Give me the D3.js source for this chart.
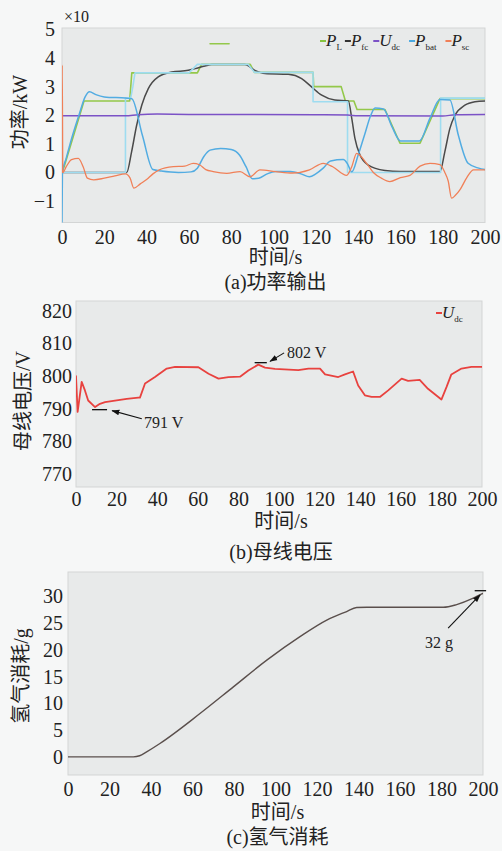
<!DOCTYPE html>
<html>
<head>
<meta charset="UTF-8">
<title>功率输出 / 母线电压 / 氢气消耗</title>
<script src="https://d3js.org/d3.v7.min.js"></script>
<style>
  body { margin: 0; background: #f6f7f7; }
  svg { display: block; }
  text { font-family: "Liberation Serif", "Noto Sans CJK SC", serif; fill: #222; }
  .tick text { font-size: 20px; }
  .label { font-size: 20px; }
  .note { font-size: 16px; }
  .plot-bg { fill: #e8eaea; stroke: #d3d5d5; stroke-width: 1; }
  .series { fill: none; stroke-linejoin: round; stroke-linecap: round; }
</style>
</head>
<body>
<div id="chart"></div>
<script>
// shared ticks
var timeTicks = [0, 20, 40, 60, 80, 100, 120, 140, 160, 180, 200];
var powerTicks = [-1, 0, 1, 2, 3, 4, 5];
var voltTicks = [770, 780, 790, 800, 810, 820];
var h2Ticks = [0, 5, 10, 15, 20, 25, 30];

// (a) power output, x10 kW, [time s, value]
var pL = [[0,0],[1,0.2],[10.4,2.5],[32,2.5],[33,3.48],[64,3.48],[66,3.78],[89,3.78],[91,3.5],[118.7,3.5],[119,3.0],[132,3.0],[134,2.5],[138,2.5],[139.5,2.2],[152.7,2.2],[159.8,1.02],[169.3,1.02],[178.7,2.58],[200,2.58]];
var pLMark = [[70,4.5],[79,4.5]];
var pFc = [[0,0],[30.6,0],[32.9,0.72],[35.3,1.65],[37.7,2.35],[40.8,2.93],[45.5,3.34],[51.9,3.51],[59.7,3.57],[63,3.63],[67.6,3.72],[70.8,3.77],[86.5,3.77],[91.2,3.57],[96,3.46],[107,3.43],[113.3,3.28],[118,2.99],[122.8,2.7],[129,2.53],[135.4,2.5],[137,1.89],[138.5,1.19],[140.9,0.61],[144.8,0.26],[152.7,0.07],[160,0.03],[178.7,0.03],[181,0.72],[183.4,1.54],[185.8,2.0],[190.5,2.35],[195.3,2.47],[200,2.5]];
var pFcRef = [[0,0],[30,0],[30,2.6],[32.5,2.6],[33.5,3.0],[34.5,3.48],[60,3.48],[64,3.78],[88,3.78],[91,3.5],[118.7,3.5],[118.7,2.47],[135,2.47],[135,0],[179,0],[179,2.6],[200,2.6]];
var uDc = [[0,1.98],[30,1.98],[36,2.02],[45,2.04],[60,2.03],[90,2.03],[120,2.02],[135,2.01],[140,1.98],[180,1.97],[186,2.02],[200,2.03]];
var pBat = [[0,-1.75],[0.2,0],[2,0.5],[5,1.3],[8,2.0],[11,2.65],[13,2.82],[16,2.72],[20,2.64],[30,2.6],[33,2.58],[38,1.3],[43,0.1],[47,0.05],[55,0.0],[61,0.02],[64,0.15],[67,0.55],[70,0.78],[75,0.84],[80,0.8],[84,0.6],[87,0.2],[90,-0.22],[93,-0.2],[97,-0.05],[101,0.03],[108,0.03],[113,-0.05],[117,-0.15],[120,-0.05],[123.5,0.15],[127,0.4],[133,0.45],[135,0.3],[137,0.02],[140,0.6],[143,1.3],[146,2.0],[148,2.25],[152,2.22],[156,1.6],[160,1.1],[169,1.1],[174,1.9],[178.7,2.55],[183.4,2.53],[187.4,1.3],[192,0.32],[197,0.15],[200,0.1]];
var pSc = [[0,0],[0.1,3.75],[0.4,0],[2,0.2],[4.5,0.45],[7.7,0.49],[10,0.2],[12,-0.2],[15,-0.26],[20,-0.2],[25,-0.12],[30,-0.05],[32.2,-0.2],[34,-0.55],[37,-0.4],[40,-0.25],[43,-0.05],[46,0.09],[52.6,0.2],[58,0.22],[62,0.32],[65,0.27],[68,0.1],[71.5,0.03],[77.9,-0.03],[84.2,0.03],[88.9,-0.15],[93.6,0.09],[101,0.03],[109,-0.02],[117,0.09],[123.5,0.32],[128,0.2],[134.6,-0.1],[137,0.2],[139.3,0.67],[144,0.32],[147.2,0],[151,-0.2],[155,-0.32],[160,-0.18],[164.5,-0.1],[169.3,0.22],[174,0.32],[178.7,0.27],[181,0],[182.6,-0.3],[184.2,-0.9],[186,-0.8],[188.2,-0.6],[191.4,-0.18],[194.6,0.09],[200,0.09]];

// (b) bus voltage, V
var busV = [[0,800],[0.8,789],[2.8,798.2],[4.4,795.6],[6,792.5],[9.4,790.5],[11.8,791.5],[14.3,792],[19.2,792.5],[25,793],[30.7,793.4],[31.5,793.4],[34,797.7],[38.9,799.7],[44.7,802.3],[48.8,802.8],[60.3,802.7],[65.3,800.7],[70.2,799.2],[75.1,799.7],[80.8,799.8],[84.9,801.7],[89.8,803.5],[93.1,802.6],[98,802.2],[109.5,801.8],[114.5,802.3],[120.2,802.3],[122.7,800.5],[129.2,799.7],[132.5,800.5],[136.5,801.4],[139,797.1],[142.3,794.1],[145.6,793.6],[149.7,793.6],[153.8,795.6],[160.4,799.2],[163.6,798.5],[169.3,798.8],[173.4,796.1],[180,792.8],[182.5,796.6],[184.9,800.5],[189.9,802.3],[194.8,802.8],[200,802.8]];

// (c) hydrogen consumption, g
var h2 = [[0,0],[31.5,0],[34.5,0.2],[37.9,0.94],[44.3,2.5],[63.6,8.1],[79.7,13.1],[95.8,18.1],[111.8,22.5],[124.7,25.6],[134.3,27.2],[139.1,27.95],[144,28],[180.9,28],[187.3,28.5],[195.3,29.7],[199.4,30.5],[200,30.6]];

var svg = d3.select("#chart").append("svg").attr("width", 502).attr("height", 851);
var defs = svg.append("defs");
defs.append("marker").attr("id", "arrow")
  .attr("viewBox", "0 0 10 10").attr("refX", 9).attr("refY", 5)
  .attr("markerWidth", 8).attr("markerHeight", 8).attr("orient", "auto")
  .attr("markerUnits", "userSpaceOnUse")
  .append("path").attr("d", "M0,1.5L10,5L0,8.5z").attr("fill", "#111");

function makePanel(id, box, yDomain, yTicks, padX, padY) {
  var x = d3.scaleLinear().domain([0, 200]).range([box.left, box.right]);
  var y = d3.scaleLinear().domain(yDomain).range([box.bottom, box.top]);
  var g = svg.append("g");
  g.append("rect").attr("class", "plot-bg")
    .attr("x", box.left).attr("y", box.top)
    .attr("width", box.right - box.left).attr("height", box.bottom - box.top);
  defs.append("clipPath").attr("id", "clip-" + id).append("rect")
    .attr("x", box.left).attr("y", box.top)
    .attr("width", box.right - box.left).attr("height", box.bottom - box.top);

  g.append("g").attr("transform", "translate(0," + box.bottom + ")")
    .call(d3.axisBottom(x).tickValues(timeTicks).tickSize(0).tickPadding(padX))
    .attr("font-family", null).attr("font-size", null)
    .call(function (a) { a.select(".domain").remove(); });
  g.append("g").attr("transform", "translate(" + box.left + ",0)")
    .call(d3.axisLeft(y).tickValues(yTicks).tickFormat(d3.format("d")).tickSize(0).tickPadding(padY))
    .attr("font-family", null).attr("font-size", null)
    .call(function (a) { a.select(".domain").remove(); });

  var plot = g.append("g").attr("clip-path", "url(#clip-" + id + ")");
  return { x: x, y: y, g: g, plot: plot, box: box };
}

function drawLine(p, data, color, width, curve) {
  var line = d3.line()
    .x(function (d) { return p.x(d[0]); })
    .y(function (d) { return p.y(d[1]); })
    .curve(curve || d3.curveLinear);
  p.plot.append("path").datum(data).attr("class", "series")
    .attr("stroke", color).attr("stroke-width", width).attr("d", line);
}

function labels(p, yLabel, yLabelX, yLabelY, xLabelY, caption, captionY) {
  var cx = (p.box.left + p.box.right) / 2 + 2;
  svg.append("text").attr("class", "label").attr("text-anchor", "middle")
    .attr("x", cx).attr("y", xLabelY).text("时间/s");
  svg.append("text").attr("class", "label").attr("text-anchor", "middle")
    .attr("x", cx).attr("y", captionY).text(caption);
  svg.append("text").attr("class", "label").attr("text-anchor", "middle")
    .attr("transform", "translate(" + yLabelX + "," + yLabelY + ") rotate(-90)")
    .text(yLabel);
}

function legend(p, items, startX, yPos) {
  var xPos = startX;
  items.forEach(function (it) {
    p.g.append("line").attr("x1", xPos).attr("x2", xPos + 6)
      .attr("y1", yPos - 5).attr("y2", yPos - 5)
      .attr("stroke", it.color).attr("stroke-width", 2);
    var t = p.g.append("text").attr("x", xPos + 6).attr("y", yPos)
      .attr("font-size", 17);
    t.append("tspan").attr("font-style", "italic").text(it.name);
    t.append("tspan").attr("font-size", 9).attr("dy", 4).text(it.sub);
    xPos += 6 + t.node().getComputedTextLength() + it.gap;
  });
}

function note(p, marker, tail, head, txt, txtPos) {
  p.g.append("line")
    .attr("x1", p.x(marker[0][0])).attr("x2", p.x(marker[1][0]))
    .attr("y1", p.y(marker[0][1])).attr("y2", p.y(marker[1][1]))
    .attr("stroke", "#111").attr("stroke-width", 1.3);
  p.g.append("line")
    .attr("x1", p.x(tail[0])).attr("y1", p.y(tail[1]))
    .attr("x2", p.x(head[0])).attr("y2", p.y(head[1]))
    .attr("stroke", "#111").attr("stroke-width", 1.1)
    .attr("marker-end", "url(#arrow)");
  p.g.append("text").attr("class", "note")
    .attr("x", p.x(txtPos[0])).attr("y", p.y(txtPos[1])).attr("dy", "0.35em")
    .text(txt);
}

// ---------- (a) 功率输出 ----------
var pa = makePanel("a", { left: 62, right: 485, top: 28, bottom: 222.5 }, [-1.75, 5.05], powerTicks, 7, 7);
drawLine(pa, pL, "#93c84a", 1.6);
drawLine(pa, pLMark, "#93c84a", 1.6);
drawLine(pa, pFc, "#4a4a4a", 1.5, d3.curveMonotoneX);
drawLine(pa, pFcRef, "#9edcf0", 1.6);
drawLine(pa, uDc, "#7b52c6", 1.5, d3.curveMonotoneX);
drawLine(pa, pBat, "#52ace2", 1.5, d3.curveMonotoneX);
drawLine(pa, pSc, "#f08058", 1.3, d3.curveMonotoneX);
svg.append("text").attr("x", 64).attr("y", 22).attr("font-size", 16).text("×10");
labels(pa, "功率/kW", 27, 112, 264, "(a)功率输出", 289);
legend(pa, [
  { name: "P", sub: "L", color: "#86c440", gap: 3 },
  { name: "P", sub: "fc", color: "#333333", gap: 5 },
  { name: "U", sub: "dc", color: "#7b52c6", gap: 9 },
  { name: "P", sub: "bat", color: "#4aa9e0", gap: 9 },
  { name: "P", sub: "sc", color: "#f08058", gap: 0 }
], 320, 46);

// ---------- (b) 母线电压 ----------
var pb = makePanel("b", { left: 76, right: 482, top: 301, bottom: 487 }, [766, 823], voltTicks, 5, 4);
drawLine(pb, busV, "#e8423f", 1.8);
labels(pb, "母线电压/V", 30, 401, 528, "(b)母线电压", 559);
legend(pb, [{ name: "U", sub: "dc", color: "#e8423f", gap: 0 }], 436, 318);
note(pb, [[88, 804.1], [94, 804.1]], [102.5, 807.1], [95.6, 804.5], "802 V", [104, 807.3]);
note(pb, [[7.9, 789.7], [15.3, 789.7]], [32.4, 786.9], [17.8, 789.4], "791 V", [33.5, 785.9]);

// ---------- (c) 氢气消耗 ----------
var pc = makePanel("c", { left: 68, right: 483, top: 572, bottom: 775 }, [-3.4, 34.6], h2Ticks, 7, 5);
drawLine(pc, h2, "#5a4f4c", 1.4, d3.curveMonotoneX);
labels(pc, "氢气消耗/g", 28, 676, 819, "(c)氢气消耗", 844);
note(pc, [[196, 31.1], [201.5, 31.1]], [183.2, 24.1], [198.6, 30.3], "32 g", [172, 21.4]);
</script>
</body>
</html>
